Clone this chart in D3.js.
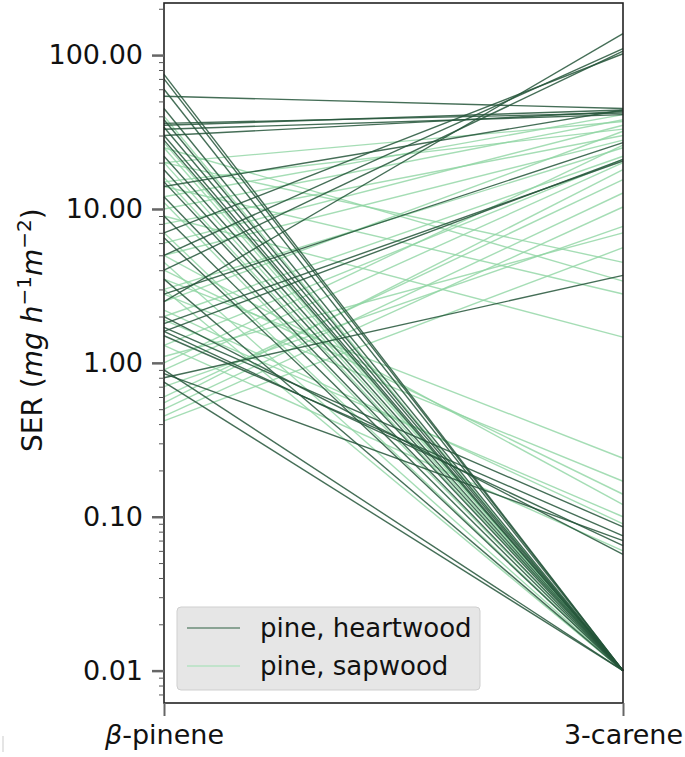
<!DOCTYPE html>
<html lang="en">
<head>
<meta charset="UTF-8">
<title>SER pine</title>
<script src="https://d3js.org/d3.v7.min.js"></script>
<style>
  body { margin: 0; background: #fff; font-family: "DejaVu Sans", sans-serif; }
  svg { display: block; }
</style>
</head>
<body>
<svg width="685" height="757"></svg>
<script>
// compounds on the two parallel axes
const compounds = ["β-pinene", "3-carene"];
const tickValues = [0.01, 0.1, 1, 10, 100];

// heartwood samples: [β-pinene, 3-carene]
const heartwood = [
  [54, 45], [36, 42], [35, 44], [33, 41], [30, 43], [14, 44],
  [2.5, 138], [5.0, 110], [4.0, 106], [7.0, 102],
  [2.8, 27], [1.6, 21], [1.8, 20.5], [0.8, 3.7],
  [1.7, 0.086], [1.5, 0.075], [0.85, 0.07], [2.0, 0.057], [1.6, 0.065],
  [75, 0.01], [70, 0.01], [60, 0.01], [45, 0.01], [38, 0.01], [34, 0.01],
  [30, 0.01], [28, 0.01], [22, 0.01], [18, 0.01], [15, 0.01], [12, 0.01],
  [9, 0.01], [6.5, 0.01], [3.5, 0.01], [0.9, 0.01], [0.75, 0.01]
];

// sapwood samples: [β-pinene, 3-carene]
const sapwood = [
  [20, 37], [15, 33], [8, 30], [5, 28], [3, 25], [2, 22], [1.3, 21],
  [0.9, 20], [0.6, 15.5], [0.5, 12.7], [0.45, 10.3], [0.7, 7.7],
  [1.1, 7], [0.42, 5.6], [12, 41], [10, 38], [6, 35], [2.5, 32],
  [1.0, 26], [0.55, 18],
  [25, 3.4], [14, 2.8], [9, 1.47], [20, 4.5],
  [3.5, 0.24], [2.8, 0.17], [5, 0.12], [1.9, 0.1], [2.2, 0.09],
  [1.3, 0.06], [4, 0.14],
  [40, 0.01], [27, 0.01], [20, 0.01], [16, 0.01], [11, 0.01],
  [7, 0.01], [4.5, 0.01], [3, 0.01], [25, 0.01]
];

const groups = [
  { name: "pine, heartwood", data: heartwood, color: "#24553a", opacity: 0.85, legend: "#6b8c79" },
  { name: "pine, sapwood", data: sapwood, color: "#8fd5a2", opacity: 0.8, legend: "#b5e2c2" }
];

const svg = d3.select("svg");
const margin = { top: 3, right: 62, bottom: 54, left: 164 };
const width = 685 - margin.left - margin.right;
const height = 757 - margin.top - margin.bottom;
const g = svg.append("g").attr("transform", `translate(${margin.left},${margin.top})`);

const x = d3.scalePoint().domain(compounds).range([0, width]);
const y = d3.scaleLog().domain([0.00616, 218]).range([height, 0]);

// lines
const line = d3.line().x((d, i) => x(compounds[i])).y(d => y(d));
groups.slice().reverse().forEach(grp => {
  g.append("g").selectAll("path")
    .data(grp.data)
    .join("path")
    .attr("d", line)
    .attr("fill", "none")
    .attr("stroke", grp.color)
    .attr("stroke-opacity", grp.opacity)
    .attr("stroke-width", 1.4);
});

// frame
g.append("rect")
  .attr("width", width).attr("height", height)
  .attr("fill", "none").attr("stroke", "#222").attr("stroke-width", 1.6);

// y axis
const minorTicks = [];
for (let e = -3; e <= 2; e++) {
  for (let k = 2; k <= 9; k++) {
    const v = k * Math.pow(10, e);
    if (v >= y.domain()[0] && v <= y.domain()[1]) minorTicks.push(v);
  }
}
const yMinor = g.append("g")
  .call(d3.axisLeft(y).tickValues(minorTicks).tickFormat("").tickSize(5));
yMinor.select(".domain").remove();
yMinor.selectAll("line").attr("stroke", "#555").attr("stroke-width", 1);

const yAxis = g.append("g")
  .call(d3.axisLeft(y).tickValues(tickValues).tickFormat(d3.format(".2f")).tickSize(12).tickPadding(9));
yAxis.select(".domain").remove();
yAxis.selectAll("line").attr("stroke", "#666").attr("stroke-width", 2.5);
yAxis.selectAll("text")
  .attr("font-family", "DejaVu Sans").attr("font-size", 27).attr("fill", "#111");

// x axis
const xAxis = g.append("g")
  .attr("transform", `translate(0,${height})`)
  .call(d3.axisBottom(x).tickSize(13).tickPadding(9));
xAxis.select(".domain").remove();
xAxis.selectAll("line").attr("stroke", "#666").attr("stroke-width", 2);
xAxis.selectAll("text")
  .attr("font-family", "DejaVu Sans").attr("font-size", 27).attr("fill", "#111")
  .each(function(d) {
    const t = d3.select(this);
    if (d.startsWith("β")) {
      t.text(null);
      t.append("tspan").attr("font-style", "italic").text("β");
      t.append("tspan").text(d.slice(1));
    }
  });

// y label
const ylab = svg.append("text")
  .attr("transform", "translate(42,452) rotate(-90)")
  .attr("text-anchor", "start")
  .attr("font-family", "DejaVu Sans").attr("font-size", 28).attr("fill", "#111");
ylab.append("tspan").text("SER (");
ylab.append("tspan").attr("font-style", "italic").text("mg h");
ylab.append("tspan").attr("font-size", 20).attr("dy", -11).text("−1");
ylab.append("tspan").attr("font-style", "italic").attr("dy", 11).text("m");
ylab.append("tspan").attr("font-size", 20).attr("dy", -11).text("−2");
ylab.append("tspan").attr("dy", 11).text(")");

// legend
const lg = svg.append("g").attr("transform", "translate(177,607)");
lg.append("rect")
  .attr("width", 303).attr("height", 83).attr("rx", 4)
  .attr("fill", "#e6e6e6").attr("stroke", "#cfcfcf");
groups.forEach((grp, i) => {
  const ly = 21 + i * 38;
  lg.append("line")
    .attr("x1", 10).attr("x2", 63).attr("y1", ly).attr("y2", ly)
    .attr("stroke", grp.legend).attr("stroke-width", 1.6);
  lg.append("text")
    .attr("x", 83).attr("y", ly + 9)
    .attr("font-family", "DejaVu Sans").attr("font-size", 26).attr("fill", "#111")
    .text(grp.name);
});

// small mark at bottom-left edge
svg.append("line").attr("x1", 3).attr("x2", 3).attr("y1", 736).attr("y2", 752)
  .attr("stroke", "#ddd").attr("stroke-width", 1.5);
</script>
</body>
</html>
